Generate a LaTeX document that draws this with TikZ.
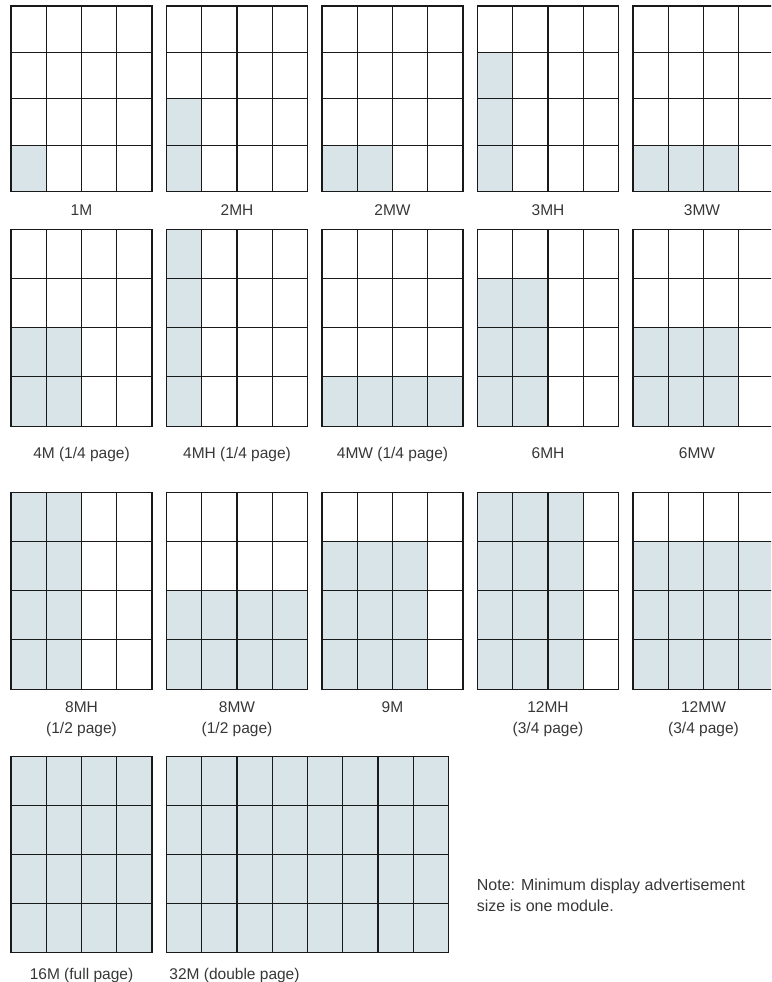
\documentclass[tikz,border=0pt]{standalone}
\usepackage{fontspec}
\setmainfont{Liberation Sans}
\definecolor{modblue}{RGB}{216,228,232}
\definecolor{txtgray}{RGB}{55,55,55}
\newcommand\modgrid[7]{% #1 name, #2 x, #3 ytop, #4 cell h, #5 ncols, #6 shaded cols, #7 first shaded row
  \coordinate (#1) at (#2,#3);
  \ifnum#6>0 \fill[modfill] (#2,#3+#7*#4) rectangle (#2+#6*35.25,#3+4*#4);\fi
  \foreach \i in {0,...,#5} \draw[modline] (#2+\i*35.25,#3) -- (#2+\i*35.25,#3+4*#4);
  \foreach \j in {0,...,4} \draw[modline] (#2,#3+\j*#4) -- (#2+#5*35.25,#3+\j*#4);
}
\begin{document}
\begin{tikzpicture}[x=1pt,y=-1pt,
  modfill/.style={fill=modblue},
  modline/.style={draw=black!90,line width=1.1pt,line cap=rect},
  lbl/.style={text=txtgray,font=\fontsize{15.5}{21}\selectfont,inner sep=0pt,anchor=base},
  lbltwo/.style={text=txtgray,font=\fontsize{15.5}{21}\selectfont,inner sep=0pt,anchor=north,align=center},
  notetxt/.style={text=txtgray,font=\fontsize{16}{20.7}\selectfont,inner sep=0pt,anchor=north west,align=left}]
\useasboundingbox (0,0) rectangle (771,982);
\clip (0,0) rectangle (771,982);
% row 1
\modgrid{g1M}{11}{6}{46.4}{4}{1}{3}
\modgrid{g2MH}{166.5}{6}{46.4}{4}{1}{2}
\modgrid{g2MW}{322}{6}{46.4}{4}{2}{3}
\modgrid{g3MH}{477.5}{6}{46.4}{4}{1}{1}
\modgrid{g3MW}{633}{6}{46.4}{4}{3}{3}
\node[lbl] (t1M) at (81.5,215) {1M};
\node[lbl] (t2MH) at (237,215) {2MH};
\node[lbl] (t2MW) at (392.5,215) {2MW};
\node[lbl] (t3MH) at (548,215) {3MH};
\node[lbl] (t3MW) at (702,215) {3MW};
% row 2
\modgrid{g4M}{11}{229.3}{49.2}{4}{2}{2}
\modgrid{g4MH}{166.5}{229.3}{49.2}{4}{1}{0}
\modgrid{g4MW}{322}{229.3}{49.2}{4}{4}{3}
\modgrid{g6MH}{477.5}{229.3}{49.2}{4}{2}{1}
\modgrid{g6MW}{633}{229.3}{49.2}{4}{3}{2}
\node[lbl] (t4M) at (81.5,458.3) {4M (1/4 page)};
\node[lbl] (t4MH) at (237,458.3) {4MH (1/4 page)};
\node[lbl] (t4MW) at (392.5,458.3) {4MW (1/4 page)};
\node[lbl] (t6MH) at (548,458.3) {6MH};
\node[lbl] (t6MW) at (697,458.3) {6MW};
% row 3
\modgrid{g8MH}{11}{492.3}{49.2}{4}{2}{0}
\modgrid{g8MW}{166.5}{492.3}{49.2}{4}{4}{2}
\modgrid{g9M}{322}{492.3}{49.2}{4}{3}{1}
\modgrid{g12MH}{477.5}{492.3}{49.2}{4}{3}{0}
\modgrid{g12MW}{633}{492.3}{49.2}{4}{4}{1}
\node[lbltwo] (t8MH) at (81.5,701.3) {8MH\\(1/2 page)};
\node[lbltwo] (t8MW) at (237,701.3) {8MW\\(1/2 page)};
\node[lbl] (t9M) at (392.5,712) {9M};
\node[lbltwo] (t12MH) at (548,701.3) {12MH\\(3/4 page)};
\node[lbltwo] (t12MW) at (703.5,701.3) {12MW\\(3/4 page)};
% row 4
\modgrid{g16M}{11}{756.7}{48.9}{4}{4}{0}
\modgrid{g32M}{166.5}{756.7}{48.9}{8}{8}{0}
\node[lbl] (t16M) at (81.5,979.3) {16M (full page)};
\node[lbl] (t32M) at (234.5,979.3) {32M (double page)};
\node[notetxt] (note) at (476.7,878.5) {Note: Minimum display advertisement\\size is one module.};
\end{tikzpicture}
\end{document}
